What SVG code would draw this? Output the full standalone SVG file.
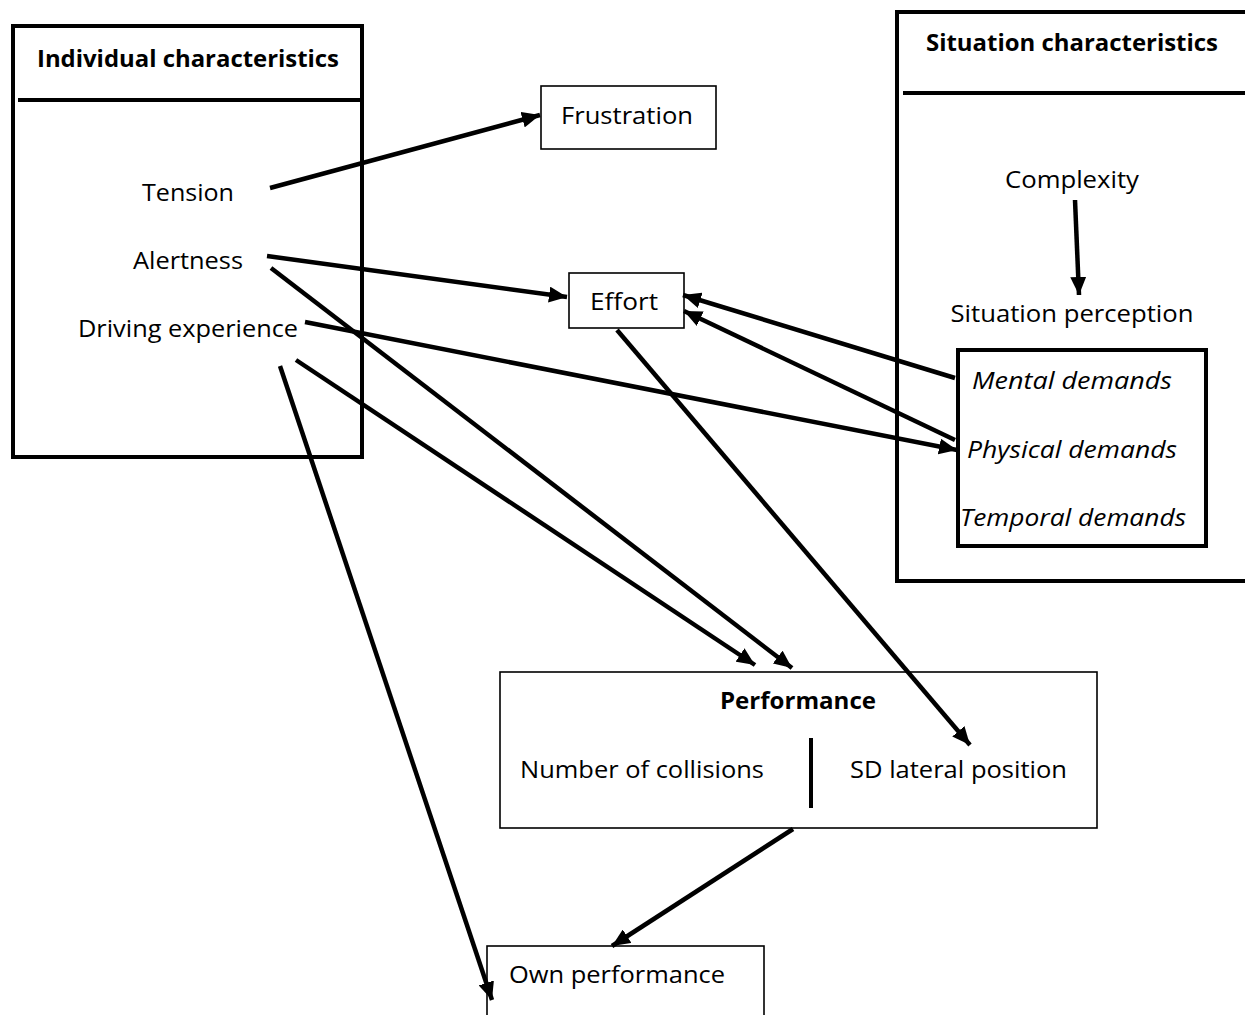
<svg xmlns="http://www.w3.org/2000/svg" width="1245" height="1015" viewBox="0 0 1245 1015">
<defs>
<marker id="ah" markerUnits="userSpaceOnUse" markerWidth="20" markerHeight="16" refX="18" refY="8" orient="auto">
<path d="M0,0 L18,8 L0,16 z" fill="#000"/>
</marker>
<style>
.t{font-family:"Open Sans","Noto Sans","Liberation Sans",sans-serif;font-size:23px;fill:#000}
.b{font-weight:bold;font-size:24px}
.i{font-style:italic}
.box{fill:#fff;stroke:#000;stroke-width:1.6}
.thick{fill:#fff;stroke:#000;stroke-width:4}
.c{fill:none;stroke:#000;stroke-width:4.5;marker-end:url(#ah)}
</style>
</defs>
<rect width="1245" height="1015" fill="#fff"/>
<g id="individual">
<rect class="thick" x="13" y="26" width="349" height="431"/>
<line x1="18" y1="100" x2="360" y2="100" stroke="#000" stroke-width="4"/>
<text class="t b" x="188" y="67" text-anchor="middle" textLength="302" lengthAdjust="spacingAndGlyphs">Individual characteristics</text>
<text class="t" x="188" y="201" text-anchor="middle" textLength="92" lengthAdjust="spacingAndGlyphs">Tension</text>
<text class="t" x="188" y="269" text-anchor="middle" textLength="110" lengthAdjust="spacingAndGlyphs">Alertness</text>
<text class="t" x="188" y="337" text-anchor="middle" textLength="220" lengthAdjust="spacingAndGlyphs">Driving experience</text>
</g>
<g id="situation">
<rect class="thick" x="897" y="12" width="360" height="569"/>
<line x1="903" y1="93" x2="1245" y2="93" stroke="#000" stroke-width="4"/>
<text class="t b" x="1072" y="51" text-anchor="middle" textLength="292" lengthAdjust="spacingAndGlyphs">Situation characteristics</text>
<text class="t" x="1072" y="188" text-anchor="middle" textLength="134" lengthAdjust="spacingAndGlyphs">Complexity</text>
<text class="t" x="1072" y="322" text-anchor="middle" textLength="243" lengthAdjust="spacingAndGlyphs">Situation perception</text>
</g>
<g id="demands">
<rect class="thick" x="958" y="350" width="248" height="196"/>
<text class="t i" x="1072" y="389" text-anchor="middle" textLength="200" lengthAdjust="spacingAndGlyphs">Mental demands</text>
<text class="t i" x="1072" y="458" text-anchor="middle" textLength="210" lengthAdjust="spacingAndGlyphs">Physical demands</text>
<text class="t i" x="1073" y="526" text-anchor="middle" textLength="226" lengthAdjust="spacingAndGlyphs">Temporal demands</text>
</g>
<g id="frustration">
<rect class="box" x="541" y="86" width="175" height="63"/>
<text class="t" x="627" y="124" text-anchor="middle" textLength="132" lengthAdjust="spacingAndGlyphs">Frustration</text>
</g>
<g id="effort">
<rect class="box" x="569" y="273" width="115" height="55"/>
<text class="t" x="624" y="310" text-anchor="middle" textLength="68" lengthAdjust="spacingAndGlyphs">Effort</text>
</g>
<g id="performance">
<rect class="box" x="500" y="672" width="597" height="156"/>
<text class="t b" x="798" y="709" text-anchor="middle" textLength="156" lengthAdjust="spacingAndGlyphs">Performance</text>
<text class="t" x="520" y="778" textLength="244" lengthAdjust="spacingAndGlyphs">Number of collisions</text>
<text class="t" x="850" y="778" textLength="217" lengthAdjust="spacingAndGlyphs">SD lateral position</text>
<line x1="811" y1="738" x2="811" y2="808" stroke="#000" stroke-width="4"/>
</g>
<g id="own-performance">
<rect class="box" x="487" y="946" width="277" height="80"/>
<text class="t" x="509" y="983" textLength="216" lengthAdjust="spacingAndGlyphs">Own performance</text>
</g>
<g id="connectors">
<line class="c" x1="270" y1="188" x2="540" y2="115"/>
<line class="c" x1="267" y1="256" x2="567" y2="297"/>
<line class="c" x1="271" y1="268" x2="792" y2="668"/>
<line class="c" x1="305" y1="322" x2="957" y2="450"/>
<line class="c" x1="296" y1="360" x2="755" y2="665"/>
<line class="c" x1="280" y1="366" x2="492" y2="1000"/>
<line class="c" x1="617" y1="330" x2="970" y2="745"/>
<line class="c" x1="955" y1="378" x2="683" y2="295"/>
<line class="c" x1="955" y1="440" x2="684" y2="311"/>
<line class="c" x1="793" y1="829" x2="612" y2="946"/>
<line class="c" x1="1075" y1="200" x2="1079" y2="295"/>
</g>
</svg>
